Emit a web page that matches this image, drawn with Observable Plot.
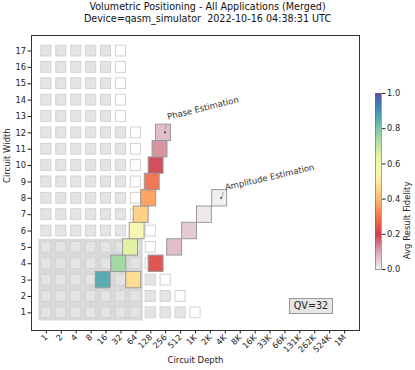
<!DOCTYPE html>
<html><head><meta charset="utf-8">
<script src="https://cdn.jsdelivr.net/npm/d3@7"></script>
<script src="https://cdn.jsdelivr.net/npm/@observablehq/plot@0.6"></script>
<style>
body{margin:0;background:#fff;font-family:"DejaVu Sans",sans-serif;}
#wrap{position:relative;width:415px;height:370px;overflow:hidden;}
#title{position:absolute;left:0;top:1px;width:415px;text-align:center;font-size:9.6px;line-height:11.5px;color:#111;}
#main,#cbar{position:absolute;top:0;}
#main{left:0}
#cbar{left:355px}
#qv{position:absolute;left:289px;top:298px;width:42px;height:14px;border:1px solid #999;background:#e6e6e6;font-size:9.6px;line-height:14px;text-align:center;color:#222;box-sizing:content-box;}
</style></head>
<body><div id="wrap">
<div id="main"></div><div id="cbar"></div>
<div id="title">Volumetric Positioning - All Applications (Merged)<br>Device=qasm_simulator&nbsp; 2022-10-16 04:38:31 UTC</div>
<div id="qv"></div>
</div>
<script>
// ---- data ----
const depthLabels = ["1","2","4","8","16","32","64","128","256","512","1K","2K","4K","8K","16K","33K","66K","131K","262K","524K","1M"];
const widthTicks = [1,2,3,4,5,6,7,8,9,10,11,12,13,14,15,16,17];
// largest depth index of the gray (expected-pass) squares for each width 1..17
const grayMaxIdx = [9,8,7,6,6,6,5,5,5,5,5,5,4,4,4,4,4];
const qv = 32;
const qvDepth = 64;
const phaseWidths = [3,4,5,6,7,8,9,10,11,12];
const phaseDepths = [14,29,50,68,82,116,137,164,197,231];
const phaseFidelity = [0.86,0.75,0.64,0.56,0.44,0.36,0.29,0.19,0.12,0.07];
const ampWidths = [3,4,5,6,7,8];
const ampDepths = [58,164,388,776,1552,3147];
const ampFidelity = [0.47,0.23,0.07,0.05,0.01,0.0];
const colorbarTicks = [0,0.2,0.4,0.6,0.8,1.0];

// ---- derived tables ----
const bg = [];
widthTicks.forEach((w,k)=>{
  for(let i=0;i<=grayMaxIdx[k];i++) bg.push({w, i, kind:"gray"});
  bg.push({w, i:grayMaxIdx[k]+1, kind:"white"});
});
const cells = [];
phaseWidths.forEach((w,k)=>cells.push({app:"Phase Estimation", w, x:Math.log2(phaseDepths[k]), f:phaseFidelity[k]}));
ampWidths.forEach((w,k)=>cells.push({app:"Amplitude Estimation", w, x:Math.log2(ampDepths[k]), f:ampFidelity[k]}));
const lastPhase = cells.filter(d=>d.app==="Phase Estimation").at(-1);
const lastAmp = cells.filter(d=>d.app==="Amplitude Estimation").at(-1);

// colour map: light gray -> pink -> red, then Spectral
const cDomain = [0,0.1,0.2];
const cRange = ["#efefef","#d9a3b3", d3.interpolateSpectral(0.1)];
for(let f=0.25; f<=1.0001; f+=0.05){ cDomain.push(+f.toFixed(2)); cRange.push(d3.interpolateSpectral(0.1+(f-0.2)*0.9/0.8)); }
const colorScale = {type:"linear", domain:cDomain, range:cRange, clamp:true};

const log2qv = Math.log2(qv);

const main = Plot.plot({
  width:415, height:370,
  marginLeft:31, marginRight:56, marginTop:35, marginBottom:40,
  style:{fontFamily:"DejaVu Sans, sans-serif", fontSize:"8px", color:"#222", background:"transparent"},
  x:{domain:[-1,21]},
  y:{domain:[-0.08,17.95]},
  color:colorScale,
  marks:[
    Plot.rect([{}],{x1:-0.5, x2:Math.log2(qvDepth)+0.5, y1:0.5, y2:log2qv+0.5, fill:"#d9d9d9"}),
    Plot.rect(bg,{x1:d=>d.i-0.34, x2:d=>d.i+0.34, y1:d=>d.w-0.33, y2:d=>d.w+0.33,
      fill:d=>d.kind==="gray"?"#e4e4e4":"#ffffff", stroke:"#d2d2d2", strokeWidth:1}),
    Plot.rect(cells,{x1:d=>d.x-0.5, x2:d=>d.x+0.5, y1:d=>d.w-0.5, y2:d=>d.w+0.5,
      fill:"f", fillOpacity:0.95, stroke:"#9a9a9a", strokeWidth:1}),
    Plot.link([lastPhase],{x1:d=>d.x+0.07, y1:d=>d.w+0.08, x2:d=>d.x+0.2, y2:d=>d.w+0.6, stroke:"#aaa", strokeWidth:1}),
    Plot.link([lastAmp],{x1:d=>d.x+0.17, y1:d=>d.w+0.05, x2:d=>d.x+0.24, y2:d=>d.w+0.4, stroke:"#aaa", strokeWidth:1}),
    Plot.dot([lastPhase,lastAmp],{x:d=>d.x, y:d=>d.w, dx:1.5, dy:-0.5, r:0.9, fill:"#111"}),
    Plot.text([lastPhase],{x:"x", y:"w", text:"app", dx:4.5, dy:-13, textAnchor:"start", lineAnchor:"bottom", rotate:-14, fontSize:8.5, fill:"#333"}),
    Plot.text([lastAmp],{x:"x", y:"w", text:"app", dx:6, dy:-8, textAnchor:"start", lineAnchor:"bottom", rotate:-13, fontSize:8.5, fill:"#333"}),
    Plot.frame({stroke:"#333", strokeWidth:1}),
    Plot.axisX({ticks:d3.range(depthLabels.length), tickFormat:i=>depthLabels[i], tickRotate:-45, tickSize:3.5, tickPadding:2, label:null, fontSize:8.3}),
    Plot.axisY({ticks:widthTicks, tickFormat:d=>String(d), tickSize:3.5, tickPadding:2, label:null, fontSize:8.3}),
    Plot.text(["Circuit Depth"],{frameAnchor:"bottom", dy:32, fontSize:8.5, fill:"#222"}),
    Plot.text(["Circuit Width"],{frameAnchor:"left", dx:-24, rotate:-90, fontSize:8.5, fill:"#222"})
  ]
});
document.getElementById("main").appendChild(main);

const steps = d3.range(0,1,0.01);
const cbar = Plot.plot({
  width:60, height:370,
  marginLeft:20, marginRight:34, marginTop:93, marginBottom:101,
  style:{fontFamily:"DejaVu Sans, sans-serif", fontSize:"8px", color:"#222", background:"transparent"},
  x:{domain:[0,1], axis:null},
  y:{domain:[0,1]},
  color:colorScale,
  marks:[
    Plot.rect(steps,{x1:0, x2:1, y1:d=>d, y2:d=>Math.min(1,d+0.013), fill:d=>d+0.005, shapeRendering:"crispEdges"}),
    Plot.frame({stroke:"#666", strokeWidth:0.6}),
    Plot.axisY({anchor:"right", ticks:colorbarTicks, tickFormat:d=>d.toFixed(1), tickSize:3.5, tickPadding:2, label:null, fontSize:8.3}),
    Plot.text(["Avg Result Fidelity"],{frameAnchor:"right", dx:26, rotate:-90, fontSize:8.5, fill:"#222"})
  ]
});
document.getElementById("cbar").appendChild(cbar);
document.getElementById("qv").textContent = "QV=" + qv;
</script>
</body></html>
